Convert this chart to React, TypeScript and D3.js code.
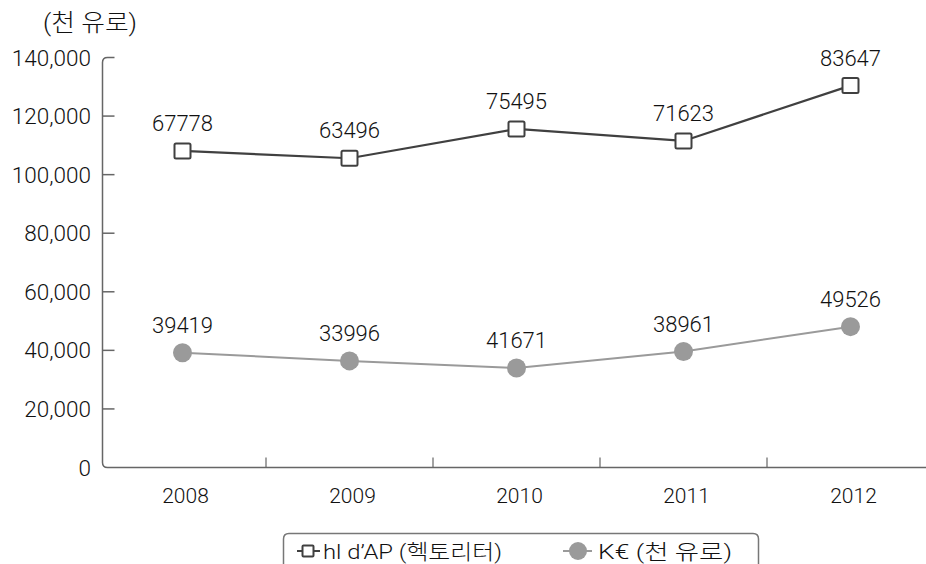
import React from "react";
import * as d3 from "d3";

const categories = ["2008", "2009", "2010", "2011", "2012"];
const hlValues = [108100, 105600, 115600, 111500, 130400];
const hlLabels = ["67778", "63496", "75495", "71623", "83647"];
const keurValues = [39200, 36400, 34000, 39600, 48100];
const keurLabels = ["39419", "33996", "41671", "38961", "49526"];
const yTicks = [0, 20000, 40000, 60000, 80000, 100000, 120000, 140000];
const unitTitle = "(천 유로)";
const legendNames = ["hl d’AP (헥토리터)", "K€ (천 유로)"];

const W = 926;
const H = 564;
const FONT = "Roboto, 'Liberation Sans', Arial, 'Noto Sans CJK KR', sans-serif";
const FW = 300;

export default function App() {
  const x = d3.scaleBand<string>().domain(categories).range([99, 934]);
  const y = d3.scaleLinear().domain([0, 140000]).range([467.5, 57.5]);
  const cx = (c: string) => (x(c) as number) + x.bandwidth() / 2;
  const axisX = 102.5;
  const fmt = d3.format(",");

  const line = d3
    .line<number>()
    .x((_, i) => cx(categories[i]))
    .y((v) => y(v));

  const r = 5;
  const axisPath =
    `M ${axisX + 12} ${y(140000)} L ${axisX + r} ${y(140000)} Q ${axisX} ${y(140000)} ${axisX} ${y(140000) + r} ` +
    `L ${axisX} ${y(0) - r} Q ${axisX} ${y(0)} ${axisX + r} ${y(0)} L ${W} ${y(0)}`;

  return (
    <svg
      width={W}
      height={H}
      style={{ position: "absolute", left: 0, top: 0, background: "#fff" }}
      fontFamily={FONT}
      fontWeight={FW}
    >
      <text x={43} y={31} fontSize={24} fill="#111" textLength={94} lengthAdjust="spacingAndGlyphs">
        {unitTitle}
      </text>

      {/* axes */}
      <path d={axisPath} fill="none" stroke="#666" strokeWidth={1.5} />
      {yTicks.map((t) => (
        <g key={t}>
          {t !== 140000 && t !== 0 && (
            <line x1={axisX} x2={axisX + 12} y1={y(t)} y2={y(t)} stroke="#666" strokeWidth={1.5} />
          )}
          <text x={91} y={y(t)} dy="0.36em" fontSize={22.5} textAnchor="end" fill="#111">
            {fmt(t)}
          </text>
        </g>
      ))}
      {categories.slice(1).map((c) => (
        <line
          key={c}
          x1={x(c) as number}
          x2={x(c) as number}
          y1={y(0)}
          y2={y(0) - 10}
          stroke="#666"
          strokeWidth={1.2}
        />
      ))}
      {categories.map((c) => (
        <text key={c} x={cx(c) + 3} y={503} fontSize={21} textAnchor="middle" fill="#111">
          {c}
        </text>
      ))}

      {/* K€ series */}
      <path d={line(keurValues) as string} fill="none" stroke="#9a9a9a" strokeWidth={2} />
      {keurValues.map((v, i) => (
        <g key={i}>
          <circle cx={cx(categories[i])} cy={y(v)} r={9.5} fill="#9a9a9a" />
          <text x={cx(categories[i])} y={y(v) - 20} fontSize={22} textAnchor="middle" fill="#111">
            {keurLabels[i]}
          </text>
        </g>
      ))}

      {/* hl series */}
      <path d={line(hlValues) as string} fill="none" stroke="#404040" strokeWidth={2.2} />
      {hlValues.map((v, i) => (
        <g key={i}>
          <rect
            x={cx(categories[i]) - 8}
            y={y(v) - 7.5}
            width={16}
            height={15}
            rx={1.5}
            fill="#fff"
            stroke="#404040"
            strokeWidth={2}
          />
          <text x={cx(categories[i])} y={y(v) - 20} fontSize={22} textAnchor="middle" fill="#111">
            {hlLabels[i]}
          </text>
        </g>
      ))}

      {/* legend */}
      <path
        d="M 283.5 575 L 283.5 539 Q 283.5 533.5 289 533.5 L 753 533.5 Q 758.5 533.5 758.5 539 L 758.5 575"
        fill="none"
        stroke="#777"
        strokeWidth={1.5}
      />
      <line x1={297} x2={320} y1={551} y2={551} stroke="#404040" strokeWidth={2} />
      <rect x={302.5} y={545.5} width={11} height={11} rx={1} fill="#fff" stroke="#404040" strokeWidth={2} />
      <text x={323} y={558.5} fontSize={21} fill="#111" textLength={179} lengthAdjust="spacingAndGlyphs">
        {legendNames[0]}
      </text>
      <line x1={563} x2={592} y1={551} y2={551} stroke="#9a9a9a" strokeWidth={2} />
      <circle cx={578} cy={551} r={9} fill="#9a9a9a" />
      <text x={598} y={558.5} fontSize={21} fill="#111" textLength={134} lengthAdjust="spacingAndGlyphs">
        {legendNames[1]}
      </text>
    </svg>
  );
}
